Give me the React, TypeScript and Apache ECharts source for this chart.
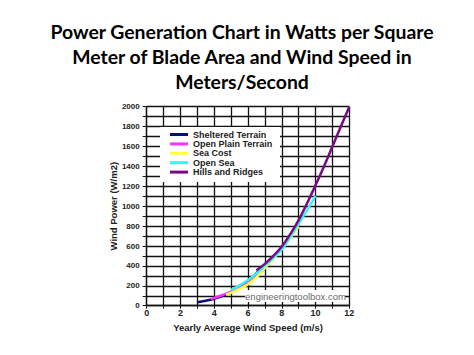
import React, { useEffect, useRef } from "react";
import * as echarts from "echarts";

const titleText = "Power Generation Chart in Watts per Square\nMeter of Blade Area and Wind Speed in\nMeters/Second";
const seriesNames = ["Sheltered Terrain", "Open Plain Terrain", "Sea Cost", "Open Sea", "Hills and Ridges"];
const seriesColors = ["#0b0b70", "#ff33ff", "#ffff40", "#33f5f5", "#7a0a84"];

const shelteredSpeed = [3, 3.5, 4, 4.5, 5, 5.5, 6, 6.6];
const shelteredPower = [35, 50, 70, 98, 135, 180, 240, 345];
const openPlainSpeed = [3.8, 4, 4.5, 5, 5.5, 6, 6.5, 7];
const openPlainPower = [65, 78, 108, 140, 180, 230, 300, 370];
const seaCostSpeed = [4.7, 5, 5.5, 6, 6.5, 7, 7.5, 8, 8.5, 9];
const seaCostPower = [110, 130, 168, 215, 285, 380, 470, 570, 680, 795];
const openSeaSpeed = [5, 5.5, 6, 6.5, 7, 7.5, 8, 8.5, 9, 9.5, 10];
const openSeaPower = [160, 205, 258, 325, 400, 480, 565, 690, 825, 960, 1105];
const hillsSpeed = [6.5, 7, 7.5, 8, 8.5, 9, 9.5, 10, 10.5, 11, 11.5, 12];
const hillsPower = [355, 420, 500, 595, 720, 860, 1030, 1210, 1400, 1600, 1800, 2000];

const xTicks = [0, 2, 4, 6, 8, 10, 12];
const yTicks = [0, 200, 400, 600, 800, 1000, 1200, 1400, 1600, 1800, 2000];

const speeds = [shelteredSpeed, openPlainSpeed, seaCostSpeed, openSeaSpeed, hillsSpeed];
const powers = [shelteredPower, openPlainPower, seaCostPower, openSeaPower, hillsPower];

export default function App() {
  const ref = useRef<HTMLDivElement>(null);
  useEffect(() => {
    if (!ref.current) return;
    const chart = echarts.init(ref.current, undefined, { renderer: "svg" });
    const axisFont = "Liberation Sans";
    chart.setOption({
      animation: false,
      backgroundColor: "#ffffff",
      title: {
        text: titleText,
        left: 237,
        top: 14,
        textAlign: "center",
        textStyle: {
          fontFamily: "Lato",
          fontWeight: "bold",
          fontSize: 19.4,
          lineHeight: 25,
          color: "#000",
        },
      },
      grid: { left: 146.7, right: 124.7, top: 106.7, bottom: 49.3 },
      xAxis: {
        type: "value",
        min: 0,
        max: 12,
        interval: 1,
        name: "Yearly Average Wind Speed (m/s)",
        nameLocation: "middle",
        nameGap: 17,
        nameTextStyle: { fontFamily: axisFont, fontWeight: "bold", fontSize: 9.5, color: "#222" },
        axisLine: { show: true, onZero: false, lineStyle: { color: "#111", width: 1.3 } },
        axisTick: { show: true, length: 3, lineStyle: { color: "#111", width: 1 } },
        axisLabel: {
          margin: 3,
          fontFamily: axisFont,
          fontWeight: "bold",
          fontSize: 9,
          color: "#222",
          formatter: (v: number) => (xTicks.indexOf(v) >= 0 ? String(v) : ""),
        },
        splitLine: { show: true, lineStyle: { color: "#111", width: 1.3 } },
      },
      yAxis: {
        type: "value",
        min: 0,
        max: 2000,
        interval: 100,
        name: "Wind Power (W/m2)",
        nameLocation: "middle",
        nameGap: 28,
        nameTextStyle: { fontFamily: axisFont, fontWeight: "bold", fontSize: 9.5, color: "#222" },
        axisLine: { show: true, lineStyle: { color: "#111", width: 1.3 } },
        axisTick: { show: true, length: 4, lineStyle: { color: "#111", width: 1 } },
        axisLabel: {
          margin: 7,
          fontFamily: axisFont,
          fontWeight: "bold",
          fontSize: 8,
          color: "#222",
          formatter: (v: number) => (yTicks.indexOf(v) >= 0 ? String(v) : ""),
        },
        splitLine: { show: true, lineStyle: { color: "#111", width: 1.3 } },
      },
      legend: {
        data: seriesNames,
        orient: "vertical",
        left: 170,
        top: 130,
        padding: 0,
        itemGap: 0.4,
        icon: "rect",
        itemWidth: 18,
        itemHeight: 3,
        z: 5,
        textStyle: { fontFamily: axisFont, fontWeight: "bold", fontSize: 9, lineHeight: 9, color: "#222" },
      },
      graphic: [
        {
          type: "rect",
          z: 1,
          shape: { x: 160, y: 127, width: 120, height: 55 },
          style: { fill: "#ffffff" },
        },
        {
          type: "rect",
          z: 1,
          shape: { x: 245, y: 290, width: 100, height: 12 },
          style: { fill: "#ffffff" },
        },
        {
          type: "text",
          z: 2,
          x: 295.5,
          y: 296,
          style: {
            text: "engineeringtoolbox.com",
            fill: "#6a6a6a",
            font: "9.5px 'Liberation Sans'",
            textAlign: "center",
            textVerticalAlign: "middle",
          },
        },
      ],
      series: seriesNames.map((name, i) => ({
        name,
        type: "line",
        smooth: true,
        showSymbol: false,
        symbol: "none",
        z: 3 + i,
        color: seriesColors[i],
        lineStyle: { color: seriesColors[i], width: 2.5 },
        data: speeds[i].map((s, j) => [s, powers[i][j]]),
      })),
    });
    return () => chart.dispose();
  }, []);
  return (
    <div
      ref={ref}
      style={{ position: "fixed", left: 0, top: 0, width: 474, height: 355 }}
    />
  );
}
